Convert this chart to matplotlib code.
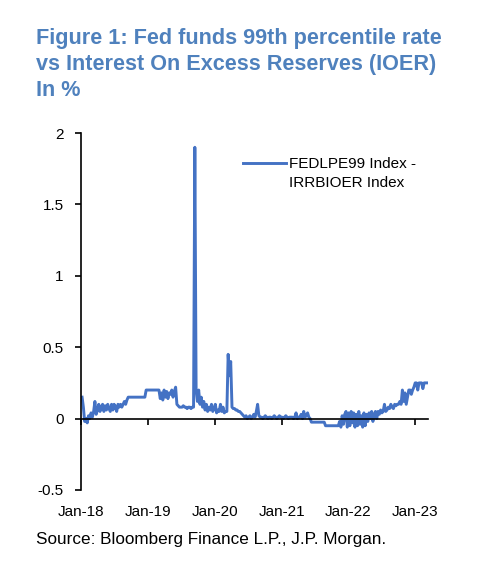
import matplotlib
matplotlib.use('Agg')
import matplotlib.pyplot as plt
import matplotlib.dates as mdates
from matplotlib.lines import Line2D
import pandas as pd

# Weekly spread FEDLPE99 - IRRBIOER (in %)
start_date = '2018-01-07'
vals_2018 = [0.15, 0.08, -0.02, 0.0, -0.03, 0.02, 0.0, 0.04, 0.01, 0.05,
             0.12, 0.03, 0.06, 0.1, 0.05, 0.08, 0.1, 0.05, 0.09, 0.06,
             0.1, 0.07, 0.05, 0.1, 0.06, 0.1, 0.08, 0.05, 0.1, 0.08,
             0.1, 0.08, 0.1, 0.12, 0.1, 0.13,
             0.15, 0.15, 0.15, 0.15, 0.15, 0.15, 0.15, 0.15, 0.15, 0.15,
             0.15, 0.15, 0.15, 0.15]
vals_2019 = [0.2, 0.2, 0.2, 0.2, 0.2, 0.2, 0.2, 0.2, 0.2, 0.2,
             0.2, 0.14, 0.18, 0.13, 0.2, 0.15, 0.19, 0.14, 0.18, 0.17,
             0.2, 0.15, 0.19, 0.22,
             0.1, 0.09, 0.08, 0.08, 0.08, 0.09, 0.08, 0.08, 0.07, 0.08,
             0.08, 0.07, 0.08, 0.08,
             1.9, 0.2, 0.12, 0.2, 0.1, 0.15, 0.08, 0.12, 0.06, 0.1,
             0.05, 0.08, 0.06, 0.1, 0.05, 0.07, 0.1, 0.04, 0.06, 0.05,
             0.1, 0.05, 0.08, 0.04, 0.05, 0.05]
vals_2020 = [0.45, 0.3, 0.4, 0.08, 0.07, 0.07, 0.06, 0.06, 0.05, 0.05,
             0.04, 0.03, 0.02, 0.01, 0.02, 0.0, 0.01, 0.02, 0.0, 0.01,
             0.03, 0.01, 0.05, 0.1, 0.02, 0.01,
             0.01, 0.0, 0.01, 0.02, 0.01, 0.0, 0.01, 0.01, 0.0, 0.01,
             0.02, 0.01, 0.0, 0.01, 0.02, 0.01, 0.01, 0.0, 0.01, 0.02,
             0.01, 0.0, 0.01, 0.01, 0.01, 0.0, 0.01, 0.04, 0.0, 0.01,
             0.01, 0.03, 0.0, 0.05, 0.01, 0.02, 0.04, 0.01, 0.0]
vals_2021 = [-0.025] * 11 + [-0.05] * 10 + \
            [-0.05, -0.02, -0.06, 0.02, -0.04, 0.03,
             0.05, -0.06, 0.04, -0.05, 0.05, -0.03, 0.04, -0.06, 0.03, -0.05,
             0.05, -0.04, 0.02, -0.06, 0.04, -0.05, 0.03]
vals_2022 = [-0.02, 0.04, 0.0, 0.05, -0.02, 0.03, 0.05, 0.0,
             0.05, 0.03, 0.06, 0.04, 0.05, 0.1, 0.05, 0.06,
             0.08, 0.07, 0.1, 0.08, 0.07, 0.1, 0.09, 0.1, 0.1, 0.12,
             0.1, 0.2, 0.12, 0.18, 0.1, 0.15, 0.2,
             0.2, 0.17, 0.2, 0.22]
vals_2023 = [0.25, 0.25, 0.2, 0.25, 0.25, 0.25, 0.21, 0.25, 0.25, 0.25]

values = vals_2018 + vals_2019 + vals_2020 + vals_2021 + vals_2022 + vals_2023
dates = pd.date_range(start_date, periods=len(values), freq='7D')

title_text = ('Figure 1: Fed funds 99th percentile rate\n'
              'vs Interest On Excess Reserves (IOER)\nIn %')
legend_lines = ['FEDLPE99 Index -', 'IRRBIOER Index']
source_text = 'Source: Bloomberg Finance L.P., J.P. Morgan.'
line_color = '#4472C4'

plt.rcParams['font.family'] = ['Liberation Sans', 'DejaVu Sans']

fig = plt.figure(figsize=(5, 5.66), dpi=100)
ax = fig.add_axes([0.162, 0.1343, 0.694, 0.6307])

line, = ax.plot(dates, values, color=line_color, lw=2.1)

ax.set_ylim(-0.5, 2)
ax.set_yticks([-0.5, 0, 0.5, 1, 1.5, 2])
ax.set_yticklabels(['-0.5', '0', '0.5', '1', '1.5', '2'])
ax.set_xlim(pd.Timestamp('2018-01-01'), pd.Timestamp('2023-03-12'))

for s in ['top', 'right']:
    ax.spines[s].set_visible(False)
ax.spines['bottom'].set_position(('data', 0))
ax.spines['left'].set_linewidth(1.2)
ax.spines['bottom'].set_linewidth(1.2)

ax.xaxis.set_major_locator(mdates.YearLocator())
ax.tick_params(axis='x', direction='out', length=4, width=1.2, labelbottom=False)
ax.tick_params(axis='y', direction='out', length=4.5, width=1.2, labelsize=11, pad=8)

# date labels sit at the bottom of the axes, below the -0.5 line
sec = ax.secondary_xaxis('bottom')
sec.spines['bottom'].set_visible(False)
sec.xaxis.set_major_locator(mdates.YearLocator())
sec.xaxis.set_major_formatter(mdates.DateFormatter('%b-%y'))
sec.tick_params(length=0, labelsize=11, pad=11)

# second legend row carries the wrapped part of the label
blank = Line2D([], [], color='none')
ax.legend([line, blank], legend_lines, loc='upper left',
          bbox_to_anchor=(0.448, 0.95), frameon=False, fontsize=11,
          handlelength=2.86, handletextpad=0.15, labelspacing=0.3,
          borderaxespad=0)

fig.text(0.072, 0.951, title_text, color='#4F81BD', fontsize=15.6,
         fontweight='bold', va='top', ha='left', linespacing=1.31)
fig.text(0.072, 0.046, source_text, fontsize=12.3, va='center', ha='left')

plt.savefig('out.png', dpi=100)
